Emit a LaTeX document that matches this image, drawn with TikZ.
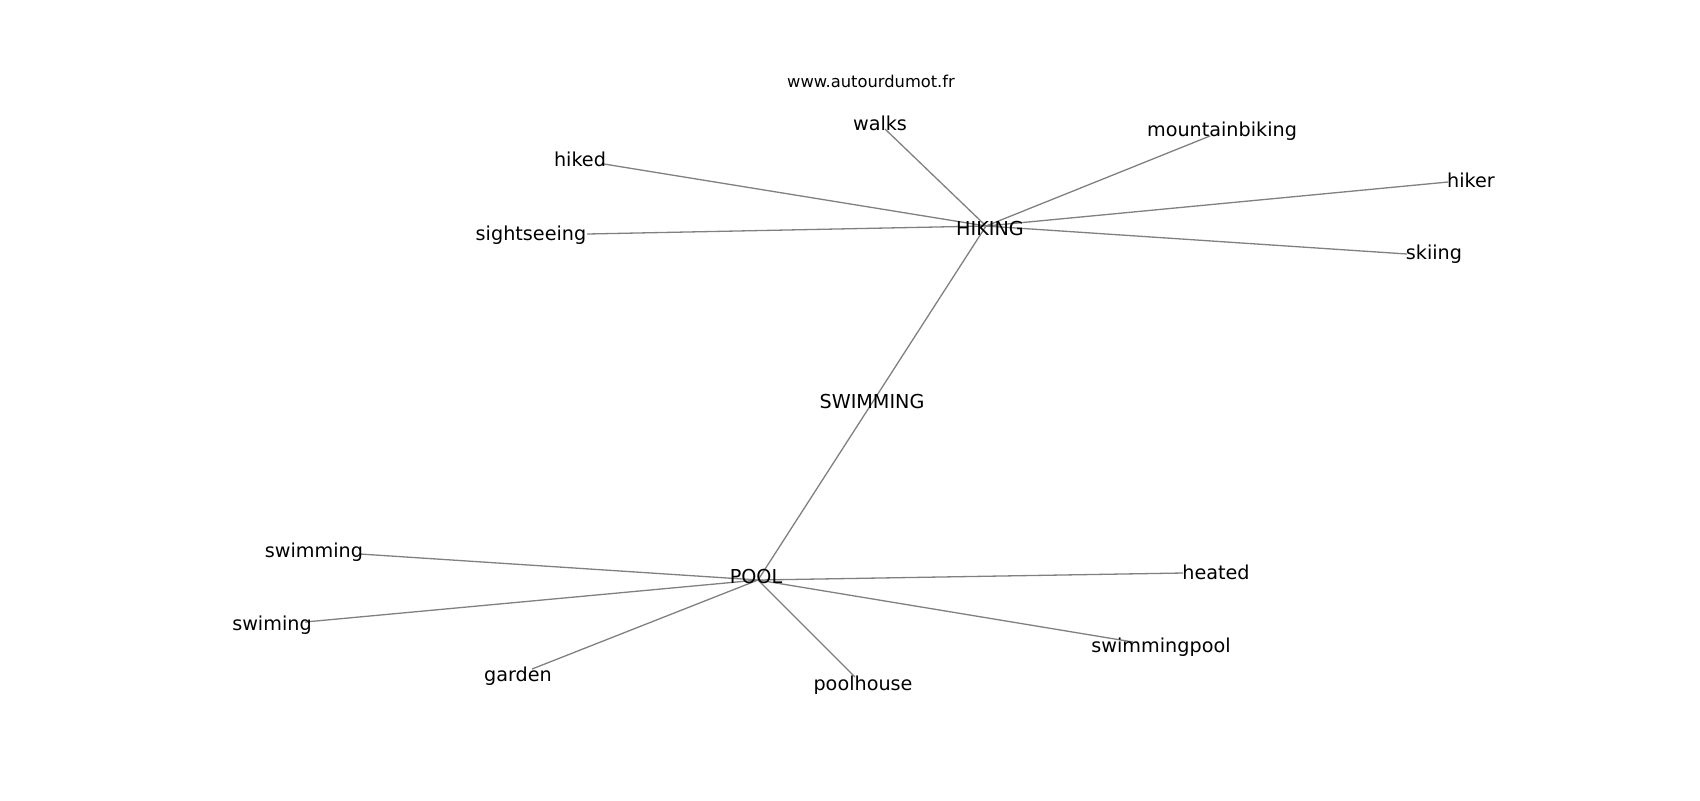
\documentclass[tikz,border=0pt]{standalone}
\usepackage{fontspec}
\setmainfont{DejaVu Sans}
\begin{document}
\begin{tikzpicture}[x=0.5pt,y=-0.5pt,
  edge/.style={draw={rgb,255:red,128;green,128;blue,128},line width=0.65pt},
  lbl/.style={anchor=base,inner sep=0pt,font=\fontsize{9.6pt}{11pt}\selectfont,text=black},
  url/.style={anchor=base,inner sep=0pt,font=\fontsize{8.15pt}{10pt}\selectfont,text=black}]
\useasboundingbox (0,0) rectangle (1700,800);
% graph node positions
\coordinate (hiking) at (986,226);
\coordinate (pool) at (758,580);
\coordinate (swim) at (872,403);
\coordinate (walks) at (885,129);
\coordinate (hiked) at (604,164);
\coordinate (sight) at (587,234);
\coordinate (mbike) at (1210,136);
\coordinate (hiker) at (1448,182);
\coordinate (skiing) at (1407,254);
\coordinate (swimming) at (360,554);
\coordinate (swiming) at (305,622);
\coordinate (garden) at (532,669);
\coordinate (poolhouse) at (855,677);
\coordinate (heated) at (1183,573);
\coordinate (spool) at (1133,642);
% edges
\draw[edge] (hiking) -- (walks);
\draw[edge] (hiking) -- (hiked);
\draw[edge] (hiking) -- (sight);
\draw[edge] (hiking) -- (mbike);
\draw[edge] (hiking) -- (hiker);
\draw[edge] (hiking) -- (skiing);
\draw[edge] (hiking) -- (swim);
\draw[edge] (swim) -- (pool);
\draw[edge] (pool) -- (swimming);
\draw[edge] (pool) -- (swiming);
\draw[edge] (pool) -- (garden);
\draw[edge] (pool) -- (poolhouse);
\draw[edge] (pool) -- (heated);
\draw[edge] (pool) -- (spool);
% labels
\node[url] (lurl) at (871,87) {www.autourdumot.fr};
\node[lbl] (lhiking) at (990,235) {HIKING};
\node[lbl] (lpool) at (756,583) {POOL};
\node[lbl] (lswim) at (872,408) {SWIMMING};
\node[lbl] (lwalks) at (880,130) {walks};
\node[lbl] (lhiked) at (580,166) {hiked};
\node[lbl] (lsight) at (531,240) {sightseeing};
\node[lbl] (lmbike) at (1222,136) {mountainbiking};
\node[lbl] (lhiker) at (1471,187) {hiker};
\node[lbl] (lskiing) at (1434,259) {skiing};
\node[lbl] (lswimming) at (314,557) {swimming};
\node[lbl] (lswiming) at (272,630) {swiming};
\node[lbl] (lgarden) at (518,681) {garden};
\node[lbl] (lpoolhouse) at (863,690) {poolhouse};
\node[lbl] (lheated) at (1216,579) {heated};
\node[lbl] (lspool) at (1161,652) {swimmingpool};
\end{tikzpicture}
\end{document}
